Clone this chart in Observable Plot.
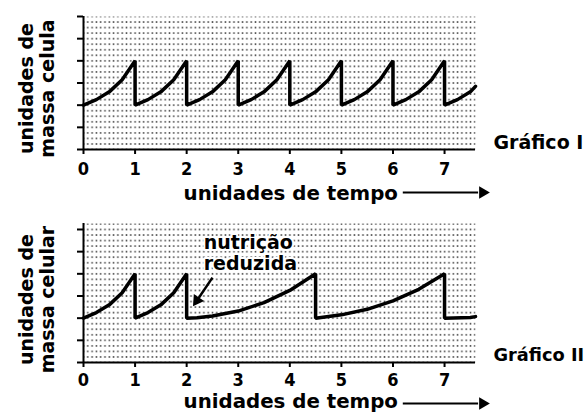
<!DOCTYPE html>
<html>
<head>
<meta charset="utf-8">
<script src="https://cdn.jsdelivr.net/npm/d3@7"></script>
<script src="https://cdn.jsdelivr.net/npm/@observablehq/plot@0.6"></script>
<style>
  html, body { margin: 0; padding: 0; background: #fff; }
  svg { display: block; }
</style>
</head>
<body>
<div id="chart"></div>
<script>
// ---- data ----
const xTicks = [0, 1, 2, 3, 4, 5, 6, 7];
const yTicks = [0, 1, 2, 3, 4, 5, 6];

// Gráfico I: regular division cycles (time, cell mass)
const time1 = [0, 0.25, 0.5, 0.75, 1, 1, 1.25, 1.5, 1.75, 2, 2, 2.25, 2.5, 2.75, 3, 3, 3.25, 3.5, 3.75, 4, 4, 4.25, 4.5, 4.75, 5, 5, 5.25, 5.5, 5.75, 6, 6, 6.25, 6.5, 6.75, 7, 7, 7.25, 7.5, 7.6];
const mass1 = [2, 2.25, 2.6, 3.15, 4, 2, 2.25, 2.6, 3.15, 4, 2, 2.25, 2.6, 3.15, 4, 2, 2.25, 2.6, 3.15, 4, 2, 2.25, 2.6, 3.15, 4, 2, 2.25, 2.6, 3.15, 4, 2, 2.25, 2.6, 3.15, 4, 2, 2.25, 2.6, 2.85];

// Gráfico II: reduced nutrition after t = 2
const time2 = [0, 0.25, 0.5, 0.75, 1, 1, 1.25, 1.5, 1.75, 2, 2, 2.2, 2.5, 3, 3.5, 4, 4.5, 4.5, 5, 5.5, 6, 6.5, 7, 7, 7.5, 7.6];
const mass2 = [2, 2.25, 2.6, 3.15, 4, 2, 2.25, 2.6, 3.15, 4, 2, 2.02, 2.1, 2.32, 2.7, 3.25, 4, 2, 2.15, 2.4, 2.78, 3.3, 4, 2, 2.03, 2.07];

// text
const yLabel1 = ["unidades de", "massa celula"];
const yLabel2 = ["unidades de", "massa celular"];
const xTitle = "unidades de tempo";
const chartNames = ["Gráfico I", "Gráfico II"];
const noteLines = ["nutrição", "reduzida"];

const FONT = "'DejaVu Sans', Verdana, sans-serif";
const NARROW = "'Liberation Sans Narrow', 'DejaVu Sans Condensed', sans-serif";

function addDots(svg, id, x0, y0, dx, dy) {
  const ns = "http://www.w3.org/2000/svg";
  const defs = document.createElementNS(ns, "defs");
  const pat = document.createElementNS(ns, "pattern");
  pat.setAttribute("id", id);
  pat.setAttribute("patternUnits", "userSpaceOnUse");
  pat.setAttribute("x", x0 - dx / 2);
  pat.setAttribute("y", y0 - dy / 2);
  pat.setAttribute("width", dx);
  pat.setAttribute("height", dy);
  const r = document.createElementNS(ns, "rect");
  r.setAttribute("x", dx / 2 - 0.75);
  r.setAttribute("y", dy / 2 - 0.75);
  r.setAttribute("width", 1.5);
  r.setAttribute("height", 1.5);
  r.setAttribute("fill", "#333");
  pat.appendChild(r);
  defs.appendChild(pat);
  svg.insertBefore(defs, svg.firstChild);
}

function makeChart({time, mass, yLabel, name, height, marginTop, marginBottom, yMax, id, note, yLabelAt, titleDy, arrowDy, nameDy, nameSize, tickPadding}) {
  const data = time.map((t, i) => ({t, m: mass[i]}));
  const bold = {fontWeight: "bold", fontFamily: FONT, fill: "black"};
  const marks = [
    Plot.frame({fill: `url(#${id})`, stroke: null}),
    Plot.axisY(yTicks, {tickSize: 6, tickFormat: () => "", strokeWidth: 2, stroke: "black", label: null}),
    Plot.axisX(xTicks, {tickSize: 5, tickPadding, strokeWidth: 2, stroke: "black", label: null,
      fontSize: 18, fontWeight: "bold", fontFamily: NARROW, fill: "black"}),
    Plot.ruleX([0], {strokeWidth: 2}),
    Plot.ruleY([0], {strokeWidth: 2}),
    Plot.line(data, {x: "t", y: "m", stroke: "black", strokeWidth: 3.5, strokeLinejoin: "miter"}),
    // y-axis label (two rotated lines)
    Plot.text([yLabel[0]], {frameAnchor: "left", y: [yLabelAt], text: d => d, rotate: -90, textAnchor: "middle", lineAnchor: "bottom", dx: -51, fontSize: 19, ...bold}),
    Plot.text([yLabel[1]], {frameAnchor: "left", y: [yLabelAt], text: d => d, rotate: -90, textAnchor: "middle", lineAnchor: "bottom", dx: -30, fontSize: 19, ...bold}),
    // chart name
    Plot.text([name], {frameAnchor: "bottom-right", text: d => d, textAnchor: "start", lineAnchor: "bottom", dx: 18, dy: nameDy, fontSize: nameSize, ...bold}),
    // x-axis title with arrow
    Plot.text([xTitle], {frameAnchor: "bottom", x: [1.94], text: d => d, textAnchor: "start", lineAnchor: "bottom", dy: titleDy, fontSize: 19.8, ...bold}),
    Plot.ruleY([0], {x1: 6.2, x2: 7.66, dy: arrowDy, strokeWidth: 2}),
    Plot.dot([7.74], {x: d => d, frameAnchor: "bottom", dy: arrowDy, symbol: "triangle", rotate: 90, r: 4.6, fill: "black", stroke: null})
  ];
  if (note) {
    marks.push(
      Plot.text(noteLines, {x: [2.33, 2.33], y: [5.14, 4.15], text: d => d, textAnchor: "start", lineAnchor: "bottom", fontSize: 19, stroke: "white", strokeWidth: 4, ...bold}),
      Plot.link([0], {x1: [2.5], y1: [3.83], x2: [2.21], y2: [2.83], strokeWidth: 2.5, stroke: "black"}),
      Plot.dot([0], {x: [2.2], y: [2.8], symbol: "triangle", rotate: 214, r: 4.6, fill: "black", stroke: null})
    );
  }
  const svg = Plot.plot({
    width: 587, height, marginLeft: 83, marginRight: 112, marginTop, marginBottom,
    x: {domain: [0, 7.6], axis: null},
    y: {domain: [0, yMax], axis: null},
    style: {fontFamily: FONT, color: "black", background: "white", overflow: "visible"},
    marks
  });
  addDots(svg, id, 83, marginTop + (yMax - 6) * (height - marginTop - marginBottom) / yMax, 51.6 / 12, 22.17 / 4);
  return svg;
}

const el = document.getElementById("chart");
el.appendChild(makeChart({time: time1, mass: mass1, yLabel: yLabel1, name: chartNames[0], height: 205, marginTop: 16, marginBottom: 56, yMax: 6, id: "dots1", note: false, yLabelAt: 2.75, titleDy: 50, arrowDy: 43, nameDy: -1, nameSize: 19, tickPadding: 8}));
el.appendChild(makeChart({time: time2, mass: mass2, yLabel: yLabel2, name: chartNames[1], height: 207, marginTop: 18, marginBottom: 50, yMax: 6.27, id: "dots2", note: true, yLabelAt: 2.84, titleDy: 45, arrowDy: 41, nameDy: -2, nameSize: 17.8, tickPadding: 6}));
</script>
</body>
</html>
